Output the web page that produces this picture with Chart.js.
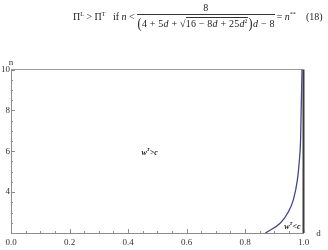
<!DOCTYPE html>
<html>
<head>
<meta charset="utf-8">
<script src="https://cdn.jsdelivr.net/npm/chart.js@4.4.1/dist/chart.umd.min.js"></script>
<style>
  html, body { margin: 0; padding: 0; background: #fff; }
  #wrap { position: relative; width: 328px; height: 250px; overflow: hidden; }
  #chart { position: absolute; left: 0; top: 0; }
  .eq { position: absolute; font-family: "Liberation Serif", serif; font-size: 10px; color: #222; white-space: nowrap; display: flex; align-items: center; }
  .eq sup { font-size: 6px; vertical-align: 4px; line-height: 0; }
  .frac { display: inline-flex; flex-direction: column; align-items: stretch; margin: 0 2px 0 2px; }
  .num { text-align: center; border-bottom: 1px solid #333; padding-bottom: 1px; line-height: 11px; }
  .den { display: flex; align-items: center; line-height: 11px; padding-top: 1px; letter-spacing: 0.2px; }
  .bigp { font-size: 15px; line-height: 14px; transform: scaleX(0.8); }
  .rad { border-top: 1px solid #333; padding-top: 0px; }
</style>
</head>
<body>
<div id="wrap">
  <canvas id="chart" width="328" height="250"></canvas>
  <div class="eq" style="left:73px; top:2px;">
    <span>Π<sup>L</sup>&nbsp;&gt;&nbsp;Π<sup>T</sup>&nbsp;&nbsp;&nbsp;if&nbsp;<i>n</i>&nbsp;&lt;</span>
    <span class="frac">
      <span class="num">8</span>
      <span class="den"><span class="bigp">(</span>4&nbsp;+&nbsp;5<i>d</i>&nbsp;+&nbsp;√<span class="rad">16&nbsp;−&nbsp;8<i>d</i>&nbsp;+&nbsp;25<i>d</i><sup>2</sup></span><span class="bigp">)</span><i>d</i>&nbsp;−&nbsp;8</span>
    </span>
    <span>=&nbsp;<i>n</i><sup>**</sup></span>
  </div>
  <div class="eq" style="left:306px; top:11px;">(18)</div>
</div>
<script>
// curve n** against d
const curveD = [0.870, 0.921, 0.946, 0.965, 0.979, 0.986, 0.990, 0.992, 0.995];
const curveN = [2.00, 2.49, 2.98, 3.61, 4.59, 5.57, 6.55, 8.00, 10.0];

// frame lines: top edge n = 10 and right edge d = 1
const topD = [0, 1];
const topN = [10, 10];
const edgeD = [1, 1];
const edgeN = [2, 10];

// tick labels
const xLabelValues = [0, 0.2, 0.4, 0.6, 0.8, 1.0];
const xLabels = ["0.0", "0.2", "0.4", "0.6", "0.8", "1.0"];
const yLabelValues = [4, 6, 8, 10];
const yLabels = ["4", "6", "8", "10"];

// region labels
const regionD = [0.474, 0.962];
const regionN = [5.92, 2.30];
const regionText = [">c", "<c"];

function toPoints(xs, ys) {
  return xs.map((v, i) => ({ x: v, y: ys[i] }));
}

function pickLabel(value, values, labels) {
  const i = values.findIndex(v => Math.abs(v - value) < 1e-6);
  return i >= 0 ? labels[i] : "";
}

const decor = {
  id: "decor",
  afterDraw(chart) {
    const { ctx, chartArea, scales: { x, y } } = chart;
    ctx.save();
    ctx.strokeStyle = "#8c8c8c";
    ctx.lineWidth = 1;

    // inward tick marks
    x.ticks.forEach(t => {
      const px = Math.round(x.getPixelForValue(t.value)) + 0.5;
      const len = t.label !== "" ? 4 : 2;
      ctx.beginPath();
      ctx.moveTo(px, chartArea.bottom);
      ctx.lineTo(px, chartArea.bottom - len);
      ctx.stroke();
    });
    y.ticks.forEach(t => {
      const py = Math.round(y.getPixelForValue(t.value)) + 0.5;
      const len = t.label !== "" ? 4 : 2;
      ctx.beginPath();
      ctx.moveTo(chartArea.left, py);
      ctx.lineTo(chartArea.left + len, py);
      ctx.stroke();
    });

    // axis names
    ctx.fillStyle = "#333";
    ctx.font = "9px 'Liberation Serif'";
    ctx.textAlign = "center";
    ctx.textBaseline = "middle";
    ctx.fillText("n", chartArea.left, chartArea.top - 7);
    ctx.fillText("d", chartArea.right + 15, chartArea.bottom + 1);

    // region labels w^T > c, w^T < c
    ctx.fillStyle = "#222";
    ctx.textAlign = "left";
    regionText.forEach((txt, i) => {
      const cx = x.getPixelForValue(regionD[i]);
      const cy = y.getPixelForValue(regionN[i]);
      ctx.font = "bold italic 8px 'Liberation Serif'";
      const wW = ctx.measureText("w").width;
      const wR = ctx.measureText(txt).width;
      ctx.font = "bold italic 5px 'Liberation Serif'";
      const wT = ctx.measureText("T").width;
      let left = cx - (wW + wT + wR) / 2;
      ctx.font = "bold italic 8px 'Liberation Serif'";
      ctx.fillText("w", left, cy);
      ctx.font = "bold italic 5px 'Liberation Serif'";
      ctx.fillText("T", left + wW, cy - 3);
      ctx.font = "bold italic 8px 'Liberation Serif'";
      ctx.fillText(txt, left + wW + wT, cy);
    });
    ctx.restore();
  }
};

new Chart(document.getElementById("chart"), {
  type: "scatter",
  data: {
    datasets: [
      {
        data: toPoints(curveD, curveN),
        showLine: true,
        borderColor: "#45458f",
        borderWidth: 1.3,
        pointRadius: 0,
        cubicInterpolationMode: "monotone",
        clip: false
      },
      {
        data: toPoints(topD, topN),
        showLine: true,
        borderColor: "#9a9a9a",
        borderWidth: 1,
        pointRadius: 0,
        clip: false
      },
      {
        data: toPoints(edgeD, edgeN),
        showLine: true,
        borderColor: "#3a3a3a",
        borderWidth: 2,
        pointRadius: 0,
        clip: false
      }
    ]
  },
  options: {
    responsive: false,
    animation: false,
    events: [],
    layout: { padding: { top: 69.5, right: 24.5, left: 0, bottom: 0 } },
    plugins: { legend: { display: false }, tooltip: { enabled: false } },
    scales: {
      x: {
        type: "linear",
        min: 0,
        max: 1,
        afterFit: s => { s.height = 17; },
        grid: { display: false, drawTicks: false },
        border: { display: true, color: "#8c8c8c", width: 1 },
        ticks: {
          stepSize: 0.05,
          autoSkip: false,
          maxRotation: 0,
          padding: 4,
          color: "#333",
          font: { family: "Liberation Serif", size: 9 },
          callback: v => pickLabel(v, xLabelValues, xLabels)
        }
      },
      y: {
        type: "linear",
        min: 2,
        max: 10,
        afterFit: s => { s.width = 11; },
        grid: { display: false, drawTicks: false },
        border: { display: true, color: "#8c8c8c", width: 1 },
        ticks: {
          stepSize: 0.5,
          autoSkip: false,
          padding: 1,
          color: "#333",
          font: { family: "Liberation Serif", size: 9 },
          callback: v => pickLabel(v, yLabelValues, yLabels)
        }
      }
    }
  },
  plugins: [decor]
});
</script>
</body>
</html>
